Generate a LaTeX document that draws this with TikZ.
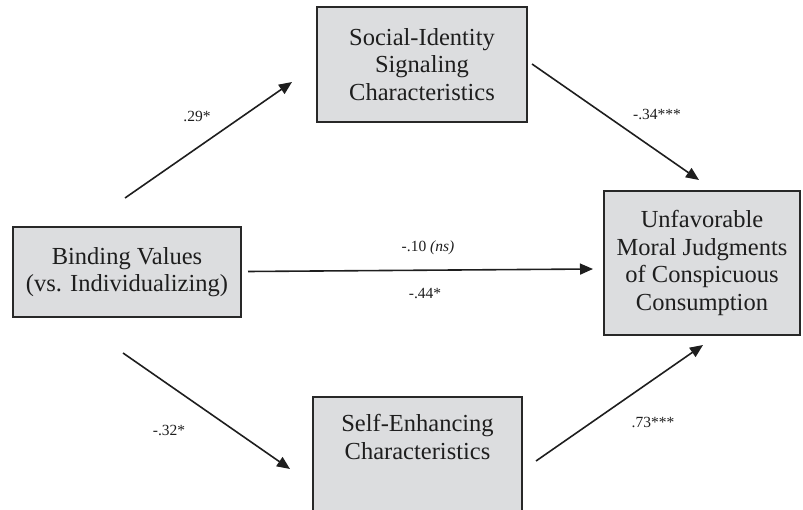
\documentclass[tikz,border=0pt]{standalone}
\usepackage{fontspec}
\setmainfont{Liberation Serif}
\usetikzlibrary{arrows.meta}
\definecolor{boxfill}{RGB}{220,221,223}
\definecolor{boxline}{RGB}{40,40,40}
\definecolor{inkc}{RGB}{30,30,30}
\tikzset{
  varbox/.style={draw=boxline, fill=boxfill, line width=2pt, inner sep=0pt, align=center,
    font=\fontsize{24.5pt}{27.5pt}\selectfont, text=inkc},
  boxtext/.style={inner sep=0pt, align=center, font=\fontsize{24.5pt}{27.5pt}\selectfont, text=inkc},
  path/.style={draw=inkc, line width=1.6pt, -{Triangle[length=13pt,width=11pt]}},
  coef/.style={inner sep=0pt, font=\fontsize{15.5pt}{18pt}\selectfont, text=inkc}
}
\begin{document}
\begin{tikzpicture}[x=1pt,y=-1pt]
\useasboundingbox (0,0) rectangle (803,510);
% boxes
\node[varbox, minimum width=210pt, minimum height=115pt] (social) at (422,64.5)
  {Social-Identity\\Signaling\\Characteristics};
\node[varbox, minimum width=228pt, minimum height=90pt] (binding) at (127,272)
  {Binding Values\\(vs. Individualizing)};
\node[varbox, minimum width=196pt, minimum height=144pt] (unfav) at (702,263)
  {Unfavorable\\Moral Judgments\\of Conspicuous\\Consumption};
\begin{scope}
\clip (0,0) rectangle (803,510);
\node[varbox, minimum width=209pt, minimum height=130pt, anchor=north] (self) at (417.5,396) {};
\end{scope}
\node[boxtext] (selftxt) at (417.5,437) {Self-Enhancing\\Characteristics};
% arrow end points
\coordinate (a1s) at (125,198);  \coordinate (a1e) at (292,82);
\coordinate (a2s) at (532,64);   \coordinate (a2e) at (699,180);
\coordinate (a3s) at (123,353);  \coordinate (a3e) at (290,469);
\coordinate (a4s) at (536,461);  \coordinate (a4e) at (703,345);
\coordinate (d0s) at (248,271.5);\coordinate (d0e) at (593,269);
\draw[path] (a1s) -- (a1e);
\draw[path] (a2s) -- (a2e);
\draw[path] (a3s) -- (a3e);
\draw[path] (a4s) -- (a4e);
\draw[path] (d0s) -- (d0e);
% coefficients
\node[coef] (c1) at (197,116) {.29*};
\node[coef] (c2) at (657,114) {-.34***};
\node[coef] (c3) at (428,248) {-.10 \textit{(ns)}};
\node[coef] (c4) at (425,294) {-.44*};
\node[coef] (c5) at (169,430) {-.32*};
\node[coef] (c6) at (653,422) {.73***};
\end{tikzpicture}
\end{document}
